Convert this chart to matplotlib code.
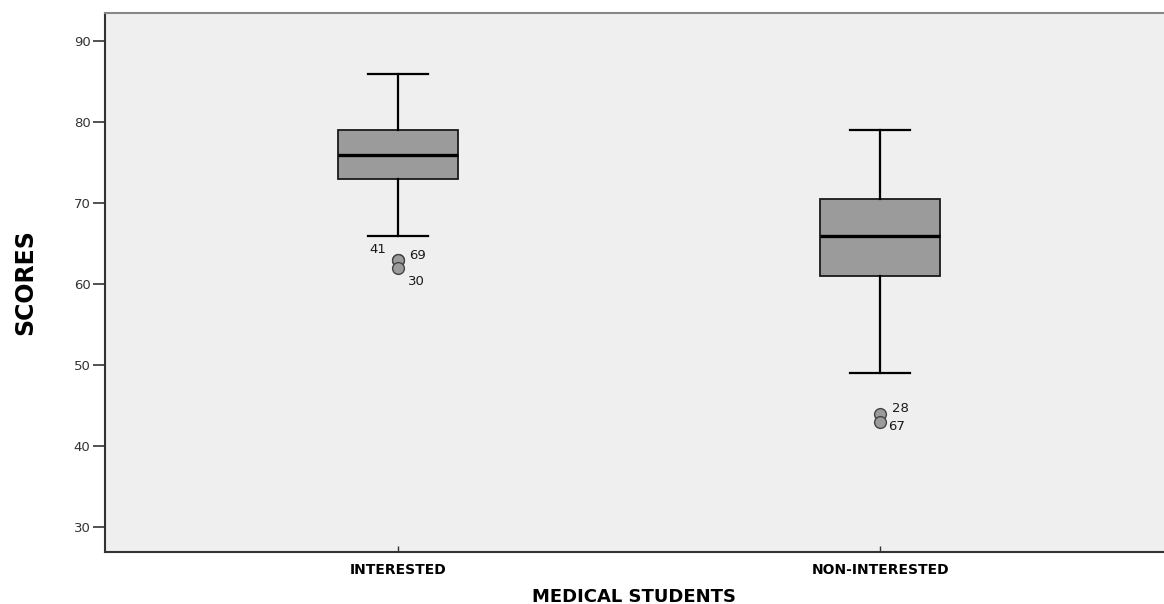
import matplotlib as mpl

mpl.use("Agg")
import matplotlib.pyplot as plt

# box summary per group
groups = ["INTERESTED", "NON-INTERESTED"]
whisker_hi = [86, 79]
q3 = [79, 70.5]
median = [76, 66]
q1 = [73, 61]
whisker_lo = [66, 49]

# outliers: value and case number label
outlier_vals = [[63, 63, 62], [44, 43]]
outlier_ids = [["41", "69", "30"], ["28", "67"]]
# label offsets in pixels (dx, dy) from each point
outlier_offsets = [[(-20, 10), (19, 4), (18, -14)], [(20, 5), (16, -5)]]

plt.rcParams["font.family"] = ["DejaVu Sans"]

fig = plt.figure(figsize=(11.64, 6.04), dpi=100)
ax = fig.add_axes([0.0902, 0.0861, 0.9098, 0.8924])
ax.set_facecolor("#efefef")

positions = [1, 2]
stats = []
for i, g in enumerate(groups):
    stats.append(
        {
            "label": g,
            "whislo": whisker_lo[i],
            "q1": q1[i],
            "med": median[i],
            "q3": q3[i],
            "whishi": whisker_hi[i],
            "fliers": outlier_vals[i],
        }
    )

ax.bxp(
    stats,
    positions=positions,
    widths=0.25,
    patch_artist=True,
    showfliers=True,
    boxprops=dict(facecolor="#9b9b9b", edgecolor="#1a1a1a", linewidth=1.3),
    medianprops=dict(color="black", linewidth=2.4),
    whiskerprops=dict(color="black", linewidth=1.6),
    capprops=dict(color="black", linewidth=1.6),
    capwidths=0.125,
    flierprops=dict(marker="o", markersize=8.5, markerfacecolor="#9b9b9b",
                    markeredgecolor="#444444", markeredgewidth=1.0),
)

for i, pos in enumerate(positions):
    for val, lab, (dx, dy) in zip(outlier_vals[i], outlier_ids[i], outlier_offsets[i]):
        ax.annotate(lab, (pos, val), xytext=(dx, dy), textcoords="offset pixels",
                    ha="center", va="center", fontsize=9.5, color="#1a1a1a")

ax.set_xlim(0.392, 2.589)
ax.set_ylim(26.9, 93.5)
ax.set_yticks([30, 40, 50, 60, 70, 80, 90])
ax.set_xticks(positions)
ax.set_xticklabels(groups, fontsize=10, fontweight="bold")
ax.tick_params(axis="y", direction="out", length=8.5, width=1.2, colors="#333333",
               labelsize=9.5, pad=2)
ax.tick_params(axis="x", direction="in", length=4, width=1.0, colors="#333333",
               labelcolor="black", pad=8)

for side in ("left", "bottom"):
    ax.spines[side].set_color("#333333")
    ax.spines[side].set_linewidth(1.5)
ax.spines["top"].set_color("#888888")
ax.spines["top"].set_linewidth(1.5)
ax.spines["right"].set_visible(False)

ax.set_xlabel("MEDICAL STUDENTS", fontsize=13, fontweight="bold")
ax.xaxis.set_label_coords(0.5, -0.066)
ax.set_ylabel("SCORES", fontsize=17, fontweight="bold")
ax.yaxis.set_label_coords(-0.064, 0.5)

fig.savefig("out.png", dpi=100)
plt.close(fig)
